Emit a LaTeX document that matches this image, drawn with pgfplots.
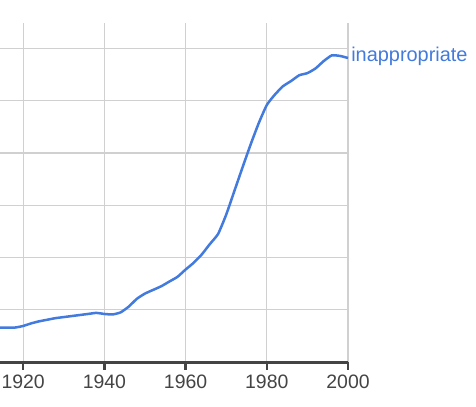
\documentclass[border=0pt]{standalone}
\usepackage{fontspec}
\setmainfont{Liberation Sans}
\usepackage{pgfplots}
\pgfplotsset{compat=1.18}
\definecolor{ngblue}{RGB}{66,122,221}
\definecolor{gridc}{RGB}{208,208,208}
\definecolor{axc}{RGB}{68,68,68}
\begin{document}
\begin{tikzpicture}
\useasboundingbox (0,0) rectangle (476bp,407bp);
\begin{axis}[
  at={(0bp,45bp)}, anchor=south west,
  scale only axis, width=348bp, height=339bp,
  xmin=1914.3, xmax=2000, ymin=0, ymax=6.49,
  axis x line*=bottom,
  axis y line*=left,
  y axis line style={draw=none},
  x axis line style={axc, line width=3bp, -},
  xtick={1920,1940,1960,1980,2000},
  ytick={1,2,3,4,5,6},
  yticklabels={},
  ytick style={draw=none},
  xtick style={draw=none},
  major tick length=8bp,
  xmajorgrids, ymajorgrids,
  major grid style={gridc, line width=1.2bp},
  /pgf/number format/assume math mode=true,
  xticklabel={\pgfmathprintnumber[1000 sep={}]{\tick}},
  tick label style={font=\fontsize{19.5}{21}\selectfont, text=axc},
  xticklabel style={yshift=-9bp},
  clip=false,
]
\addplot[ycomb, axc, line width=2.5bp, forget plot] coordinates {
(1920,-0.16) (1940,-0.16) (1960,-0.16) (1980,-0.16) (2000,-0.16)
};
\addplot[ngblue, line width=2.5bp, smooth, tension=0.3] coordinates {
(1914.3,0.66) (1918,0.66) (1920,0.69) (1922,0.74) (1924,0.78) (1926,0.81)
(1928,0.84) (1930,0.86) (1932,0.88) (1934,0.90) (1936,0.92) (1938,0.94)
(1940,0.92) (1942,0.91) (1944,0.95) (1946,1.06) (1948,1.21) (1950,1.31)
(1952,1.38) (1954,1.45) (1956,1.54) (1958,1.63) (1960,1.77) (1962,1.90)
(1964,2.06) (1966,2.26) (1968,2.45) (1970,2.82) (1972,3.27) (1974,3.72)
(1976,4.16) (1978,4.57) (1980,4.92) (1982,5.12) (1984,5.28) (1986,5.38)
(1988,5.49) (1990,5.53) (1992,5.62) (1994,5.76) (1996,5.87) (1998,5.86)
(2000,5.82)
} node[pos=1, anchor=west, inner sep=2bp, yshift=2bp, text=ngblue, font=\fontsize{20}{22}\selectfont] {inappropriate};
\end{axis}
\end{tikzpicture}
\end{document}
